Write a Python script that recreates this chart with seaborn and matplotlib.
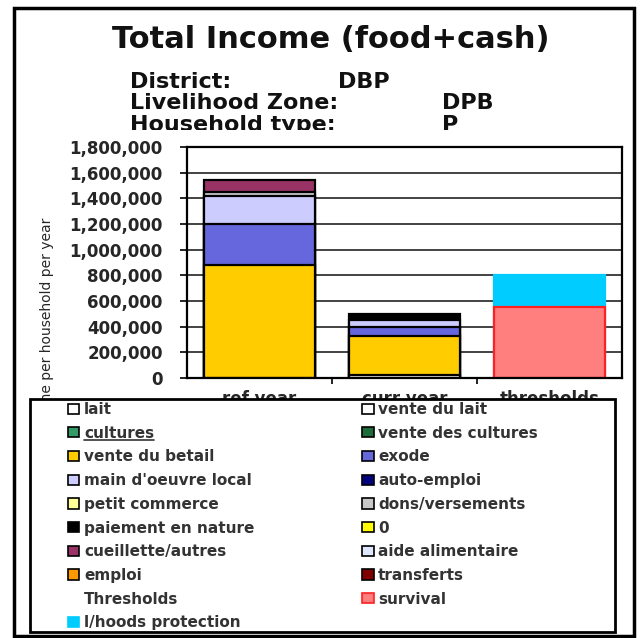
import matplotlib
matplotlib.use('Agg')
import matplotlib.pyplot as plt
import numpy as np
import pandas as pd
import seaborn as sns
from matplotlib.patches import Patch, Rectangle
from matplotlib.lines import Line2D

sns.set_style('white')
plt.rcParams['font.family'] = ['DejaVu Sans']

# Data
categories = ['ref year', 'curr year', 'thresholds']

# series in the stacking order used by the chart (bottom -> top)
series_names = ['lait', 'vente du lait', 'cultures', 'vente des cultures',
                'vente du betail', 'exode', "main d'oeuvre local", 'auto-emploi',
                'petit commerce', 'dons/versements', 'paiement en nature', '0',
                'cueillette/autres', 'aide alimentaire', 'emploi', 'transferts',
                'Thresholds', 'survival', "l/hoods protection"]

lait = [0, 25000, 0]
vente_du_betail = [880000, 305000, 0]
exode = [320000, 65000, 0]
main_oeuvre_local = [220000, 60000, 0]
dons_versements = [30000, 0, 0]
paiement_en_nature = [0, 45000, 0]
cueillette_autres = [90000, 0, 0]
survival = [0, 0, 550000]
lhoods_protection = [0, 0, 250000]
zero = [0, 0, 0]

series_values = [lait, zero, zero, zero,
                 vente_du_betail, exode, main_oeuvre_local, zero,
                 zero, dons_versements, paiement_en_nature, zero,
                 cueillette_autres, zero, zero, zero,
                 zero, survival, lhoods_protection]

series_colors = ['#ffffff', '#ffffff', '#339966', '#1f6b3a',
                 '#ffcc00', '#6666dd', '#ccccff', '#000080',
                 '#ffff99', '#c8c8c8', '#000000', '#ffff00',
                 '#993366', '#dde8ff', '#ff9900', '#800000',
                 'none', '#ff7f7f', '#00ccff']
series_edges = ['black'] * 17 + ['#ff2020', '#00ccff']

yticks = list(range(0, 1800001, 200000))

W, H = 643, 638
fig = plt.figure(figsize=(W / 100, H / 100), dpi=100)

# axes placed where the plot area sits in the picture
ax = fig.add_axes([187 / W, 1 - 378 / H, 435 / W, 231 / H])
ax.set_zorder(3)

vals = np.array(series_values, dtype=float)
cum = np.cumsum(vals, axis=0)

# draw top layers first, lower layers cover them -> stacked bars
for i in range(len(series_names) - 1, -1, -1):
    mask = vals[i] > 0
    if not mask.any():
        continue
    d = pd.DataFrame({'cat': np.array(categories)[mask], 'val': cum[i][mask]})
    sns.barplot(data=d, x='cat', y='val', order=categories, color=series_colors[i],
                saturation=1, edgecolor=series_edges[i], linewidth=1.6,
                width=0.76, ax=ax, errorbar=None)

ax.set_xlim(-0.5, 2.5)
ax.set_ylim(0, 1800000)
ax.set_yticks(yticks)
ax.set_yticklabels([f'{v:,}' for v in yticks], fontsize=12, fontweight='bold')
ax.yaxis.grid(True, color='#222222', linewidth=1.2)
ax.set_axisbelow(True)
ax.set_xlabel('')
ax.set_ylabel('')
ax.tick_params(axis='y', direction='out', length=5, width=1.2, color='black', pad=12.5, left=True)
ax.set_xticks([0, 1, 2])
ax.set_xticklabels(categories, fontsize=12, fontweight='bold')
ax.set_xticks([0.5, 1.5], minor=True)
ax.tick_params(axis='x', which='major', length=0, pad=9)
ax.tick_params(axis='x', which='minor', direction='out', length=4, width=1.2, color='black', bottom=True)
for s in ax.spines.values():
    s.set_color('black')
    s.set_linewidth(1.6)

# titles
fig.text(331 / W, 1 - 39 / H, 'Total Income (food+cash)', fontsize=22, fontweight='bold',
         ha='center', va='center', color='#111111', zorder=1)
sub_kw = dict(fontsize=16, fontweight='bold', va='baseline', color='#111111', zorder=1)
fig.text(130 / W, 1 - 88 / H, 'District:', **sub_kw)
fig.text(338 / W, 1 - 88 / H, 'DBP', **sub_kw)
fig.text(130 / W, 1 - 109 / H, 'Livelihood Zone:', **sub_kw)
fig.text(442 / W, 1 - 109 / H, 'DPB', **sub_kw)
fig.text(130 / W, 1 - 131 / H, 'Household type:', **sub_kw)
fig.text(442 / W, 1 - 131 / H, 'P', **sub_kw)
# the last line is cut off in the picture
fig.patches.append(Rectangle((25 / W, 1 - 150 / H), 600 / W, 20 / H,
                             transform=fig.transFigure, facecolor='white',
                             edgecolor='none', zorder=2))

fig.text(47 / W, 1 - 218 / H, 'Income per household per year', rotation=90,
         fontsize=10, ha='center', va='top', zorder=1)

# legend box (white, covers the lower part of the chart like in the picture)
fig.patches.append(Rectangle((30 / W, 1 - 632 / H), 585 / W, 233 / H,
                             transform=fig.transFigure, facecolor='white',
                             edgecolor='black', linewidth=2, zorder=9))

# legend, filled column by column
handles = {}
for name, col, ed in zip(series_names, series_colors, series_edges):
    if name == 'Thresholds':
        handles[name] = Patch(facecolor='none', edgecolor='none')
    else:
        handles[name] = Patch(facecolor=col, edgecolor=ed, linewidth=1.2)
col1 = ['lait', 'cultures', 'vente du betail', "main d'oeuvre local", 'petit commerce',
        'paiement en nature', 'cueillette/autres', 'emploi', 'Thresholds', 'l/hoods protection']
col2 = ['vente du lait', 'vente des cultures', 'exode', 'auto-emploi', 'dons/versements',
        '0', 'aide alimentaire', 'transferts', 'survival']
order = col1 + col2
leg = fig.legend([handles[n] for n in order], order, ncol=2, loc='upper left',
                 bbox_to_anchor=(68 / W, 1 - 402 / H),
                 prop={'size': 11, 'weight': 'bold'}, labelcolor='#333333',
                 frameon=False, handlelength=0.75, handleheight=0.65, handletextpad=0.3,
                 labelspacing=0.57, columnspacing=7.05, borderpad=0, borderaxespad=0)
leg.set_zorder(10)

# "cultures" is underlined in the picture
fig.canvas.draw()
bb = leg.get_texts()[1].get_window_extent().transformed(fig.transFigure.inverted())
fig.add_artist(Line2D([bb.x0, bb.x1], [bb.y0 + 1 / H, bb.y0 + 1 / H], transform=fig.transFigure,
                      color='#333333', linewidth=1.2, zorder=11))

# outer frame
fig.patches.append(Rectangle((14 / W, 2 / H), 620 / W, 628 / H, transform=fig.transFigure,
                             fill=False, edgecolor='black', linewidth=2.5, zorder=11))

fig.savefig('out.png', dpi=100)
